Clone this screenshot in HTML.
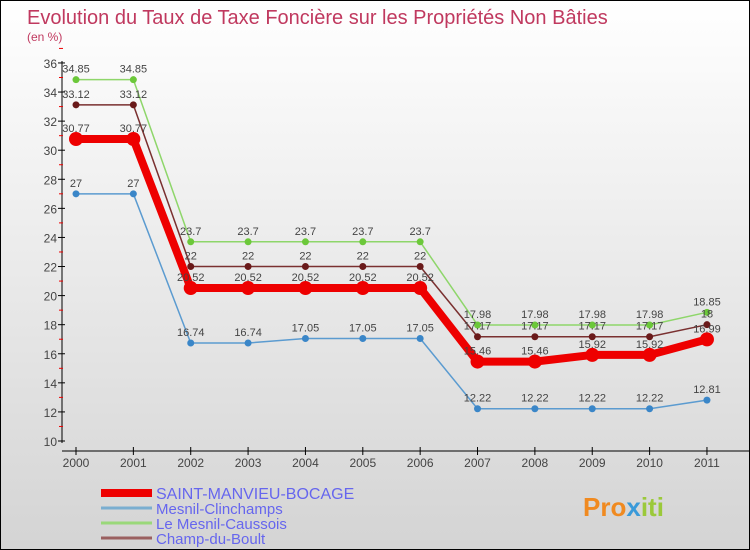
<!DOCTYPE html>
<html><head><meta charset="utf-8"><style>
body{margin:0}
#c{width:748px;height:548px;border:1px solid #000;background:linear-gradient(#fff,#d4d4d4);position:relative;overflow:hidden;font-family:"Liberation Sans",sans-serif}
svg{position:absolute;left:0;top:0}
</style></head><body>
<div id="c">
<svg id="s" width="750" height="550">
<text x="26" y="23" font-size="20" fill="#c0395f">Evolution du Taux de Taxe Foncière sur les Propriétés Non Bâties</text>
<text x="26" y="40" font-size="12" fill="#c0395f">(en %)</text>
<text x="582" y="515" font-size="26" font-weight="bold" fill="#f08a20">Pro<tspan fill="#3a9ad9">x</tspan><tspan fill="#9bc93a">iti</tspan></text>
</svg>
</div>
<script>
const years=["2000","2001","2002","2003","2004","2005","2006","2007","2008","2009","2010","2011"];
const yTicks=[10,12,14,16,18,20,22,24,26,28,30,32,34,36];
const saint=[30.77,30.77,20.52,20.52,20.52,20.52,20.52,15.46,15.46,15.92,15.92,16.99];
const mesnilClin=[27,27,16.74,16.74,17.05,17.05,17.05,12.22,12.22,12.22,12.22,12.81];
const mesnilCaus=[34.85,34.85,23.7,23.7,23.7,23.7,23.7,17.98,17.98,17.98,17.98,18.85];
const champ=[33.12,33.12,22,22,22,22,22,17.17,17.17,17.17,17.17,18];
const names=["SAINT-MANVIEU-BOCAGE","Mesnil-Clinchamps","Le Mesnil-Caussois","Champ-du-Boult"];
const svg=document.getElementById('s');const NS='http://www.w3.org/2000/svg';
function el(t,a){const e=document.createElementNS(NS,t);for(const k in a)e.setAttribute(k,a[k]);svg.appendChild(e);return e;}
const X=i=>75+i*57.36, Y=v=>440-(v-10)*14.54;
let e=el('line',{x1:61,y1:60,x2:61,y2:442,stroke:'#000'});


e=el('line',{x1:61,y1:450,x2:750,y2:450,stroke:'#000'});


yTicks.forEach(v=>{const l=el('line',{x1:57,x2:64,y1:Y(v),y2:Y(v),stroke:'#000'});


const r=el('line',{x1:58,x2:62,y1:Y(v+1),y2:Y(v+1),stroke:'#e00'});


const t=el('text',{x:56,y:Y(v)+5,'font-size':12,fill:'#444','text-anchor':'end'});t.textContent=v;

});
years.forEach((y,i)=>{const l=el('line',{x1:X(i),x2:X(i),y1:446,y2:454,stroke:'#000'});


const t=el('text',{x:X(i),y:466,'font-size':12,fill:'#444','text-anchor':'middle'});t.textContent=y;

});
const series=[[mesnilClin,'#5b9bd0','#3a86c8',1.5,3.5],[mesnilCaus,'#8ed66a','#6cc83a',1.5,3.5],[champ,'#7a3030','#6a1a1a',1.5,3.5],[saint,'#ee0000','#ee0000',8,7]];
series.forEach(([d,lc,pc,w,r],si)=>{const p=el('polyline',{points:d.map((v,i)=>X(i)+','+Y(v)).join(' '),fill:'none',stroke:lc,'stroke-width':w,'stroke-linejoin':'round'});


d.forEach((v,i)=>{const c=el('circle',{cx:X(i),cy:Y(v),r:r,fill:pc});


const t=el('text',{x:X(i),y:Y(v)-7,'font-size':11,fill:'#444','text-anchor':'middle'});t.textContent=v;

});});
const lc=['#ee0000','#7aaed0','#9ad87a','#9a6060'],lw=[8,3,3,3];
names.forEach((n,i)=>{const yy=492+i*15;const l=el('line',{x1:100,x2:151,y1:yy,y2:yy,stroke:lc[i],'stroke-width':lw[i]});


const t=el('text',{x:155,y:yy+6,'font-size':i==0?16:15,fill:'#6666ee'});t.textContent=n;

});
</script>
</body></html>
